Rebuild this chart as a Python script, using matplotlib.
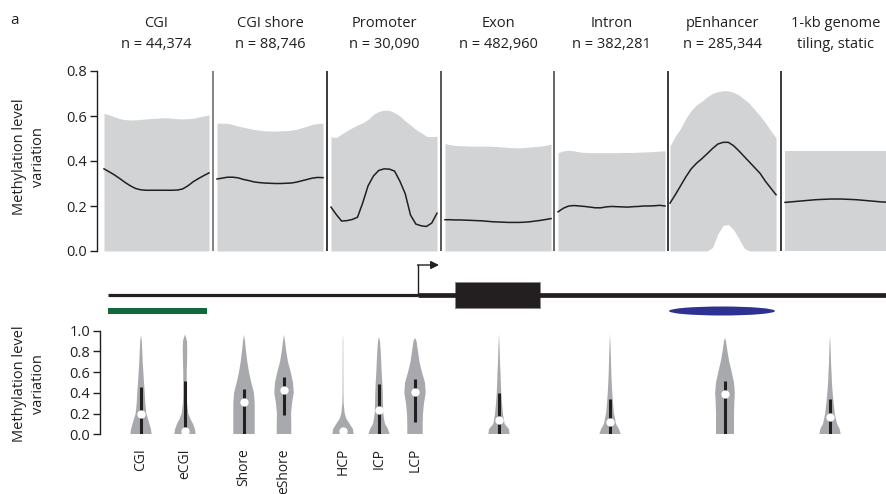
import numpy as np
import matplotlib
matplotlib.use("Agg")
import matplotlib.pyplot as plt
from matplotlib.patches import Rectangle, Ellipse

plt.rcParams['font.family'] = ['Open Sans', 'DejaVu Sans']

# ---------------------------------------------------------------- data
region_titles = ["CGI\nn = 44,374", "CGI shore\nn = 88,746", "Promoter\nn = 30,090",
                 "Exon\nn = 482,960", "Intron\nn = 382,281", "pEnhancer\nn = 285,344",
                 "1-kb genome\ntiling, static"]

# relative position across each region (0 = left flank, 1 = right flank)
profile_pos = np.linspace(0, 1, 21)

mean_cgi = [0.365, 0.352, 0.338, 0.322, 0.305, 0.29, 0.278, 0.272, 0.27, 0.27, 0.27,
            0.27, 0.27, 0.27, 0.271, 0.276, 0.29, 0.308, 0.322, 0.335, 0.347]
upper_cgi = [0.612, 0.605, 0.596, 0.588, 0.584, 0.582, 0.583, 0.585, 0.587, 0.589, 0.59,
             0.592, 0.592, 0.59, 0.588, 0.587, 0.588, 0.59, 0.595, 0.6, 0.605]

mean_shore = [0.32, 0.324, 0.328, 0.328, 0.325, 0.318, 0.313, 0.307, 0.304, 0.302, 0.301,
              0.3, 0.3, 0.301, 0.302, 0.306, 0.312, 0.318, 0.324, 0.327, 0.326]
upper_shore = [0.568, 0.568, 0.567, 0.562, 0.555, 0.55, 0.545, 0.54, 0.537, 0.534, 0.533,
               0.533, 0.534, 0.535, 0.537, 0.541, 0.548, 0.555, 0.563, 0.567, 0.568]

mean_promoter = [0.195, 0.162, 0.133, 0.135, 0.14, 0.15, 0.215, 0.29, 0.333, 0.358, 0.365,
                 0.364, 0.355, 0.31, 0.255, 0.16, 0.12, 0.112, 0.109, 0.124, 0.168]
upper_promoter = [0.508, 0.504, 0.52, 0.535, 0.548, 0.56, 0.57, 0.585, 0.607, 0.62, 0.626,
                  0.625, 0.615, 0.6, 0.578, 0.56, 0.54, 0.526, 0.51, 0.508, 0.51]

mean_exon = [0.139, 0.139, 0.138, 0.138, 0.137, 0.136, 0.135, 0.134, 0.132, 0.13, 0.129,
             0.128, 0.127, 0.127, 0.127, 0.128, 0.13, 0.133, 0.136, 0.14, 0.144]
upper_exon = [0.478, 0.472, 0.469, 0.468, 0.467, 0.466, 0.466, 0.466, 0.466, 0.465, 0.464,
              0.462, 0.46, 0.459, 0.458, 0.46, 0.462, 0.464, 0.466, 0.47, 0.475]

mean_intron = [0.174, 0.19, 0.2, 0.202, 0.2, 0.198, 0.195, 0.192, 0.192, 0.196, 0.198,
               0.197, 0.196, 0.195, 0.197, 0.198, 0.2, 0.2, 0.201, 0.203, 0.2]
upper_intron = [0.437, 0.445, 0.448, 0.445, 0.44, 0.438, 0.437, 0.437, 0.437, 0.437, 0.437,
                0.437, 0.438, 0.438, 0.438, 0.439, 0.44, 0.441, 0.442, 0.444, 0.445]

mean_enh = [0.213, 0.25, 0.29, 0.33, 0.365, 0.39, 0.41, 0.432, 0.455, 0.475, 0.483,
            0.483, 0.468, 0.445, 0.42, 0.395, 0.37, 0.345, 0.31, 0.28, 0.25]
upper_enh = [0.466, 0.51, 0.545, 0.59, 0.625, 0.65, 0.665, 0.685, 0.7, 0.708, 0.712,
             0.712, 0.705, 0.693, 0.675, 0.655, 0.628, 0.6, 0.57, 0.535, 0.503]
lower_enh = [0, 0, 0, 0, 0, 0, 0, 0, 0.015, 0.075, 0.113,
             0.118, 0.095, 0.055, 0.012, 0, 0, 0, 0, 0, 0]

mean_tiling = [0.216, 0.218, 0.22, 0.222, 0.224, 0.226, 0.228, 0.229, 0.23, 0.231, 0.231,
               0.231, 0.23, 0.229, 0.228, 0.226, 0.224, 0.222, 0.22, 0.218, 0.217]
upper_tiling = [0.444] * 21

region_means = [mean_cgi, mean_shore, mean_promoter, mean_exon, mean_intron, mean_enh, mean_tiling]
region_uppers = [upper_cgi, upper_shore, upper_promoter, upper_exon, upper_intron, upper_enh, upper_tiling]
region_lowers = [None, None, None, None, None, lower_enh, None]

# violin summaries
violin_labels = ["CGI", "eCGI", "Shore", "eShore", "HCP", "ICP", "LCP", "", "", "", ""]
density_levels = [0, 0.05, 0.1, 0.15, 0.2, 0.3, 0.4, 0.5, 0.6, 0.7, 0.8, 0.9]
violin_density = [
    [1.0, 0.93, 0.79, 0.65, 0.5, 0.4, 0.35, 0.28, 0.22, 0.16, 0.12, 0.07],      # CGI
    [1.0, 0.93, 0.75, 0.5, 0.31, 0.19, 0.16, 0.16, 0.16, 0.19, 0.21, 0.19],     # eCGI
    [1.0, 1.0, 1.0, 1.0, 1.0, 1.0, 0.93, 0.68, 0.47, 0.31, 0.19, 0.09],         # Shore
    [0.68, 0.68, 0.68, 0.67, 0.66, 0.75, 0.91, 0.84, 0.63, 0.37, 0.21, 0.09],   # eShore
    [1.0, 0.93, 0.63, 0.31, 0.16, 0.06, 0.04, 0.035, 0.03, 0.03, 0.025, 0.02],  # HCP
    [1.0, 0.84, 0.56, 0.47, 0.4, 0.37, 0.35, 0.31, 0.25, 0.21, 0.16, 0.09],     # ICP
    [0.72, 0.72, 0.72, 0.73, 0.75, 0.84, 1.0, 0.93, 0.65, 0.42, 0.28, 0.14],    # LCP
    [1.0, 0.93, 0.53, 0.44, 0.37, 0.28, 0.21, 0.17, 0.14, 0.09, 0.065, 0.03],   # Exon
    [1.0, 0.84, 0.56, 0.47, 0.37, 0.28, 0.21, 0.16, 0.12, 0.09, 0.065, 0.03],   # Intron
    [0.84, 0.84, 0.84, 0.84, 0.84, 0.87, 0.92, 0.84, 0.63, 0.4, 0.23, 0.09],    # pEnhancer
    [1.0, 0.91, 0.66, 0.55, 0.45, 0.34, 0.25, 0.18, 0.14, 0.09, 0.065, 0.03],   # tiling
]
violin_max = [0.96, 0.965, 0.96, 0.96, 0.96, 0.94, 0.93, 0.97, 0.97, 0.93, 0.95]
violin_median = [0.196, 0.03, 0.315, 0.43, 0.03, 0.235, 0.41, 0.14, 0.12, 0.385, 0.17]
violin_low = [0.0, 0.05, 0.0, 0.19, 0.0, 0.0, 0.12, 0.0, 0.0, 0.0, 0.0]
violin_high = [0.46, 0.51, 0.44, 0.55, 0.05, 0.49, 0.53, 0.40, 0.34, 0.51, 0.34]

# ---------------------------------------------------------------- layout (pixel units)
W, H = 887, 494
region_left = [104, 217, 331, 445, 558, 670, 785]
region_width = [105, 106, 106, 106, 107, 106, 102]
separators = [213, 327, 441, 554, 668, 781]
separator_colors = ['#7a7a7a', '#2b2b2b', '#4a4a4a', '#5a5a5a', '#2b2b2b', '#2b2b2b']
violin_x = [141, 185, 244, 284, 343, 379, 415, 499, 610, 725, 830]
violin_halfwidth = 10.7

INK = '#231f20'
FILL = '#d1d3d4'
VIOLIN = '#a7a9ac'
FS = 10.5

fig = plt.figure(figsize=(W / 100, H / 100), dpi=100)


def style_axis(ax):
    for s in ('top', 'right', 'bottom'):
        ax.spines[s].set_visible(False)
    ax.spines['left'].set_color(INK)
    ax.spines['left'].set_linewidth(1.0)
    ax.tick_params(axis='y', direction='out', length=5, width=1.0, color=INK,
                   labelsize=FS, pad=2, labelcolor=INK)
    ax.set_xticks([])
    ax.patch.set_alpha(0)


# ---------------------------------------------------------------- profiles
ax_top = fig.add_axes([97 / W, 1 - 251 / H, (W - 97) / W, 180 / H])
ax_top.set_xlim(97, W)
ax_top.set_ylim(0, 0.8)
style_axis(ax_top)
ax_top.set_yticks([0, 0.2, 0.4, 0.6, 0.8])
ax_top.set_yticklabels(['0.0', '0.2', '0.4', '0.6', '0.8'])

for i in range(7):
    xs = region_left[i] + profile_pos * region_width[i]
    low = np.zeros_like(xs) if region_lowers[i] is None else np.asarray(region_lowers[i])
    ax_top.fill_between(xs, low, region_uppers[i], color=FILL, lw=0)
    ax_top.plot(xs, region_means[i], color=INK, lw=1.1, solid_joinstyle='round')
    ax_top.text(region_left[i] + region_width[i] / 2, (251 - 34) / 180, region_titles[i],
                transform=ax_top.get_xaxis_transform(), ha='center', va='center',
                fontsize=FS, color=INK, linespacing=1.55)

for x, c in zip(separators, separator_colors):
    ax_top.vlines(x, 0, 0.8, color=c, lw=1.3)

# ---------------------------------------------------------------- violins
ax_bot = fig.add_axes([100 / W, 1 - 434.3 / H, (W - 100) / W, 103.6 / H])
ax_bot.set_xlim(100, W)
ax_bot.set_ylim(0, 1)
style_axis(ax_bot)
ax_bot.set_yticks([0, 0.2, 0.4, 0.6, 0.8, 1.0])
ax_bot.set_yticklabels(['0.0', '0.2', '0.4', '0.6', '0.8', '1.0'])

for i, x in enumerate(violin_x):
    ys = np.array(density_levels + [violin_max[i]])
    hw = np.array(violin_density[i] + [0.0]) * violin_halfwidth
    px = np.concatenate([x - hw, (x + hw)[::-1]])
    py = np.concatenate([ys, ys[::-1]])
    ax_bot.fill(px, py, color=VIOLIN, lw=0)
    ax_bot.vlines(x, violin_low[i], violin_high[i], color=INK, lw=2.2)
    ax_bot.plot(x, violin_median[i], 'o', ms=6, mfc='white', mec='none', clip_on=False)

# ---------------------------------------------------------------- gene model + annotation
ax_bg = fig.add_axes([0, 0, 1, 1])
ax_bg.set_xlim(0, W)
ax_bg.set_ylim(H, 0)
ax_bg.axis('off')
ax_bg.patch.set_alpha(0)

ax_bg.plot([108, 418], [295, 295], color=INK, lw=2.3, solid_capstyle='butt')
ax_bg.plot([418, W], [295, 295], color=INK, lw=3.4, solid_capstyle='butt')
ax_bg.add_patch(Rectangle((455, 282), 85, 26, fc=INK, ec='#8a8a8a', lw=0.6))
ax_bg.plot([418, 418], [295, 265], color=INK, lw=1.0)
ax_bg.annotate('', xy=(439, 265), xytext=(417.5, 265),
               arrowprops=dict(arrowstyle='-|>', color=INK, lw=1.0, mutation_scale=12,
                               shrinkA=0, shrinkB=0))
ax_bg.add_patch(Rectangle((108, 308), 99, 5.5, fc='#12683a', ec='none'))
ax_bg.add_patch(Ellipse((722, 311), 106, 9, fc='#2e3192', ec='none'))

for x, lab in zip(violin_x, violin_labels):
    if lab:
        ax_bg.text(x, 448, lab, rotation=90, ha='center', va='top', fontsize=10, color=INK)

ax_bg.text(15, 20, 'a', ha='center', va='center', fontsize=11, color=INK)
ax_bg.text(29, 157, 'Methylation level\nvariation', rotation=90, ha='center', va='center',
           fontsize=FS, color=INK, linespacing=1.45)
ax_bg.text(29, 384, 'Methylation level\nvariation', rotation=90, ha='center', va='center',
           fontsize=FS, color=INK, linespacing=1.45)

fig.savefig('out.png', dpi=100)
